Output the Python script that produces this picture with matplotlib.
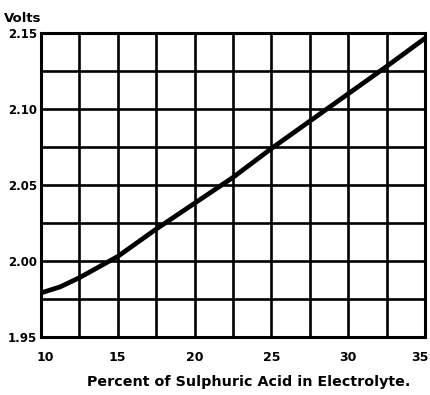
import numpy as np
import matplotlib.pyplot as plt
from matplotlib.transforms import ScaledTranslation

# acid strength (percent) and cell voltage
percent = [10, 11.25, 12.5, 13.75, 15, 16.25, 17.5, 20, 22.5, 25, 27.5, 30, 32.5, 35]
volts = [1.979, 1.983, 1.989, 1.996, 2.003, 2.012, 2.021, 2.038, 2.055, 2.074,
         2.092, 2.110, 2.128, 2.1465]

x_ticks = [10, 15, 20, 25, 30, 35]
x_labels = ["10", "15", "20", "25", "30", "35"]
y_ticks = [1.95, 2.00, 2.05, 2.10, 2.15]
y_labels = ["1.95", "2.00", "2.05", "2.10", "2.15"]

plt.rcParams['font.family'] = ['DejaVu Sans']

fig = plt.figure(figsize=(4.31, 3.95), dpi=100)
ax = fig.add_axes([0.0951, 0.1468, 0.891, 0.7697])

ax.plot(percent, volts, color='black', linewidth=3.4, solid_capstyle='round', zorder=3)

ax.set_xlim(10, 35)
ax.set_ylim(1.95, 2.15)
ax.set_xticks(x_ticks)
ax.set_xticklabels(x_labels, fontsize=9, fontweight='heavy')
ax.set_yticks(y_ticks)
ax.set_yticklabels(y_labels, fontsize=8.5, fontweight='heavy')
ax.set_xticks(np.arange(12.5, 35, 5), minor=True)
ax.set_yticks(np.arange(1.975, 2.15, 0.05), minor=True)
ax.grid(True, which='both', color='black', linewidth=1.9)
ax.tick_params(which='both', length=0)
ax.tick_params(axis='x', pad=10)
ax.tick_params(axis='y', pad=3)
for s in ax.spines.values():
    s.set_linewidth(2.2)

# keep the end labels clear of the figure edge
labels = ax.get_xticklabels()
labels[0].set_transform(labels[0].get_transform() + ScaledTranslation(3 / 72, 0, fig.dpi_scale_trans))
labels[-1].set_transform(labels[-1].get_transform() + ScaledTranslation(-4 / 72, 0, fig.dpi_scale_trans))

ax.set_xlabel("Percent of Sulphuric Acid in Electrolyte.", fontsize=10.3,
              fontweight='heavy', labelpad=3)
ax.xaxis.set_label_coords(0.54, -0.125)
fig.text(0.01, 0.952, "Volts", fontsize=9.5, fontweight='heavy', va='center')

fig.savefig("out.png", dpi=100)
